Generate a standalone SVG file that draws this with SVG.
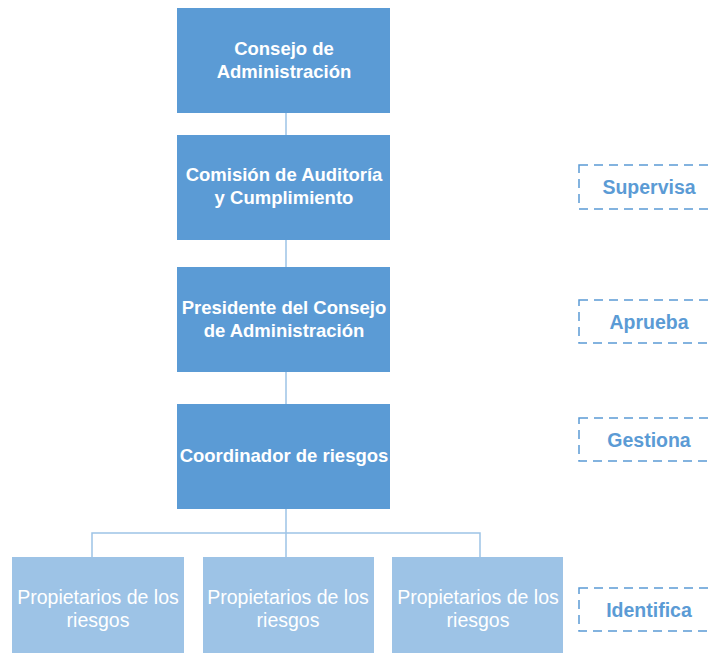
<svg xmlns="http://www.w3.org/2000/svg" width="713" height="653" viewBox="0 0 713 653">
<style>
.main{fill:#5b9bd5}
.sub{fill:#9dc3e6}
.t{font-family:"Liberation Sans",Arial,sans-serif;font-size:18.5px;font-weight:bold;fill:#fff;text-anchor:middle}
.ts{font-family:"Liberation Sans",Arial,sans-serif;font-size:19.5px;fill:#fff;text-anchor:middle}
.d{fill:none;stroke:#5b9bd5;stroke-width:1.5;stroke-dasharray:9,6}
.dt{font-family:"Liberation Sans",Arial,sans-serif;font-size:19.5px;font-weight:bold;fill:#5b9bd5;text-anchor:middle}
.c{fill:none;stroke:#9dc3e6;stroke-width:1.5}
</style>
<rect width="713" height="653" fill="#fff"/>
<g id="connectors">
<line class="c" x1="286" y1="113" x2="286" y2="135"/>
<line class="c" x1="286" y1="240" x2="286" y2="267"/>
<line class="c" x1="286" y1="372" x2="286" y2="404"/>
<line class="c" x1="286" y1="509" x2="286" y2="557"/>
<polyline class="c" points="92,557 92,533 480,533 480,557"/>
</g>
<g id="n1"><rect class="main" x="177" y="8" width="213" height="105"/>
<text class="t" x="284" y="55">Consejo de</text><text class="t" x="284" y="78">Administración</text></g>
<g id="n2"><rect class="main" x="177" y="135" width="213" height="105"/>
<text class="t" x="284" y="181">Comisión de Auditoría</text><text class="t" x="284" y="204">y Cumplimiento</text></g>
<g id="n3"><rect class="main" x="177" y="267" width="213" height="105"/>
<text class="t" x="284" y="314">Presidente del Consejo</text><text class="t" x="284" y="337">de Administración</text></g>
<g id="n4"><rect class="main" x="177" y="404" width="213" height="105"/>
<text class="t" x="284" y="462">Coordinador de riesgos</text></g>
<g id="n5"><rect class="sub" x="12" y="557" width="172" height="96"/>
<text class="ts" x="98" y="604">Propietarios de los</text><text class="ts" x="98" y="627">riesgos</text></g>
<g id="n6"><rect class="sub" x="203" y="557" width="171" height="96"/>
<text class="ts" x="288" y="604">Propietarios de los</text><text class="ts" x="288" y="627">riesgos</text></g>
<g id="n7"><rect class="sub" x="392" y="557" width="171" height="96"/>
<text class="ts" x="478" y="604">Propietarios de los</text><text class="ts" x="478" y="627">riesgos</text></g>
<g id="l1"><rect class="d" x="579" y="165" width="140" height="44"/><text class="dt" x="649" y="194">Supervisa</text></g>
<g id="l2"><rect class="d" x="579" y="300" width="140" height="43"/><text class="dt" x="649" y="329">Aprueba</text></g>
<g id="l3"><rect class="d" x="579" y="418" width="140" height="43"/><text class="dt" x="649" y="447">Gestiona</text></g>
<g id="l4"><rect class="d" x="579" y="588" width="140" height="43"/><text class="dt" x="649" y="617">Identifica</text></g>
</svg>
